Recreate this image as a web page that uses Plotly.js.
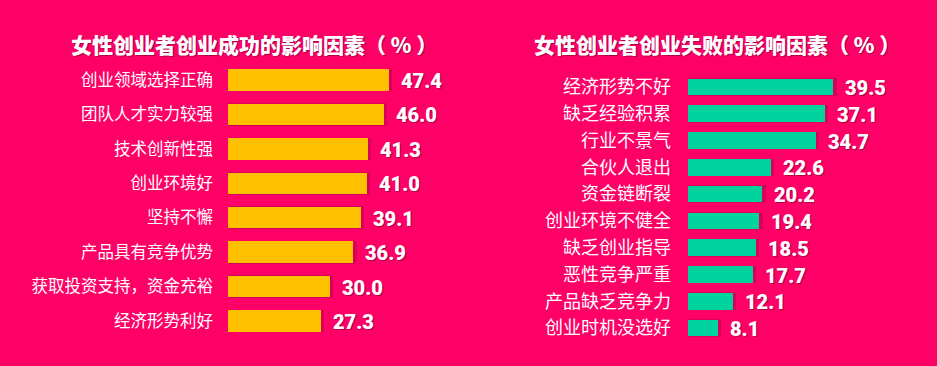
<!DOCTYPE html>
<html><head><meta charset="utf-8">
<script src="https://cdn.plot.ly/plotly-3.0.1.min.js"></script>
<style>html,body{margin:0;padding:0;background:#FF0066;}#chart{width:937px;height:366px;}</style>
</head><body><div id="chart"></div>
<script>
const leftTitle = "女性创业者创业成功的影响因素（ % ）";
const leftCats = ["创业领域选择正确","团队人才实力较强","技术创新性强","创业环境好","坚持不懈","产品具有竞争优势","获取投资支持，资金充裕","经济形势利好"];
const leftVals = [47.4, 46.0, 41.3, 41.0, 39.1, 36.9, 30.0, 27.3];
const rightTitle = "女性创业者创业失败的影响因素（ % ）";
const rightCats = ["经济形势不好","缺乏经验积累","行业不景气","合伙人退出","资金链断裂","创业环境不健全","缺乏创业指导","恶性竞争严重","产品缺乏竞争力","创业时机没选好"];
const rightVals = [39.5, 37.1, 34.7, 22.6, 20.2, 19.4, 18.5, 17.7, 12.1, 8.1];

const BG = "#FF0066", SHADOW = "#D8005A", YEL = "#FFC000", TEAL = "#00D39E";
const CJK = "'Noto Sans CJK SC', 'Microsoft YaHei', sans-serif";
const NUM = "Roboto, 'DejaVu Sans Condensed', sans-serif";

function shadowTrace(cats, vals, xa, ya){
  return {type:"bar", orientation:"h", y:cats, x:vals.map(v=>v+0.9), xaxis:xa, yaxis:ya,
    marker:{color:SHADOW}, width:0.66, hoverinfo:"skip", showlegend:false};
}
function barTrace(cats, vals, xa, ya, color){
  return {type:"bar", orientation:"h", y:cats, x:vals, xaxis:xa, yaxis:ya,
    marker:{color:color}, width:0.62, showlegend:false};
}
const data = [
  shadowTrace(leftCats, leftVals, "x", "y"),
  barTrace(leftCats, leftVals, "x", "y", YEL),
  shadowTrace(rightCats, rightVals, "x2", "y2"),
  barTrace(rightCats, rightVals, "x2", "y2", TEAL)
];
function valAnns(cats, vals, xr, yr){
  return vals.map((v,i)=>({xref:xr, yref:yr, x:v, y:cats[i], text:v.toFixed(1), showarrow:false,
    xanchor:"left", xshift:10, yshift:-1,
    font:{family:NUM, size:20, color:"#FFFFFF", weight:900, shadow:"1px 1px 0 #B3004A"}}));
}
const annotations = [
  ...valAnns(leftCats, leftVals, "x", "y"),
  ...valAnns(rightCats, rightVals, "x2", "y2"),
  {xref:"paper", yref:"paper", x:254/937, y:1-44/366, text:leftTitle, showarrow:false, xanchor:"center", yanchor:"middle",
    font:{family:CJK, size:21, color:"#FFFFFF", weight:900, shadow:"1px 1px 0 #B3004A"}},
  {xref:"paper", yref:"paper", x:717/937, y:1-44/366, text:rightTitle, showarrow:false, xanchor:"center", yanchor:"middle",
    font:{family:CJK, size:21, color:"#FFFFFF", weight:900, shadow:"1px 1px 0 #B3004A"}}
];
const axX = {showgrid:false, zeroline:false, showticklabels:false, showline:false, fixedrange:true};
const layout = {
  width:937, height:366, margin:{l:0,r:0,t:0,b:0},
  paper_bgcolor:BG, plot_bgcolor:BG, barmode:"overlay", bargap:0,
  xaxis:Object.assign({}, axX, {domain:[228/937, 432/937], range:[0,60], anchor:"y"}),
  yaxis:{domain:[1-338.2/366, 1-62.8/366], autorange:"reversed", type:"category", anchor:"x",
    showgrid:false, zeroline:false, showline:false, ticks:"", ticklabelstandoff:14,
    tickfont:{family:CJK, size:16.5, color:"#FFFFFF"}},
  xaxis2:Object.assign({}, axX, {domain:[688/937, 872/937], range:[0,50], anchor:"y2"}),
  yaxis2:{domain:[1-341.5/366, 1-72/366], autorange:"reversed", type:"category", anchor:"x2",
    showgrid:false, zeroline:false, showline:false, ticks:"", ticklabelstandoff:16,
    tickfont:{family:CJK, size:18, color:"#FFFFFF"}},
  annotations:annotations
};
Plotly.newPlot("chart", data, layout, {displayModeBar:false, staticPlot:true});
</script></body></html>
